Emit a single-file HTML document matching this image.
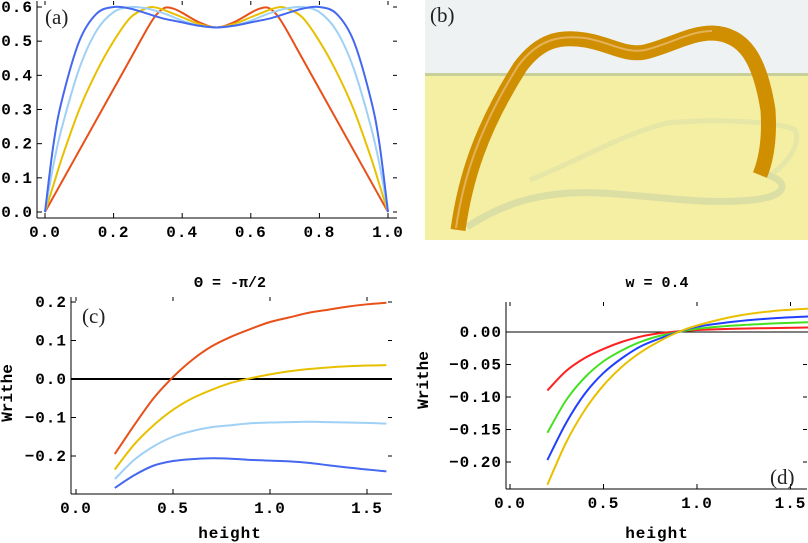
<!DOCTYPE html>
<html><head><meta charset="utf-8">
<style>
body{margin:0;background:#fff;width:808px;height:543px;overflow:hidden}
svg{display:block}
text{font-family:"Liberation Mono",monospace;font-weight:bold;fill:#000}
.lab{font-family:"Liberation Serif",serif;font-weight:normal;font-size:21px;fill:#222}
</style></head><body>
<svg id="fig" width="808" height="543" viewBox="0 0 808 543">
  <g id="pa"></g>
  <g id="pb">
    <rect x="425" y="0" width="383" height="75" fill="#eef2f3"/>
    <rect x="425" y="74" width="383" height="166" fill="#f4efa3"/>
    <rect x="425" y="73" width="383" height="3" fill="#c8cf98"/>
    <path d="M467,227 C500,205 540,190 600,193 C660,196 700,205 753,200 C790,196 790,180 762,173" fill="none" stroke="#dcdfa4" stroke-width="7"/>
    <path d="M530,180 C580,160 620,135 667,123 C720,118 780,122 795,130 C802,145 785,165 773,173" fill="none" stroke="#e6e6a6" stroke-width="5"/>
    <path d="M458,230 C465,180 480,130 520,67 C540,40 560,36 585,40 C610,44 625,56 645,52 C670,46 690,33 712,33 C745,34 760,60 768,110 C770,140 766,160 760,175" fill="none" stroke="#d08f00" stroke-width="15"/>
    <path d="M456,228 C463,180 478,130 518,66 C538,39 560,35 585,38 C610,42 625,54 645,50 C670,44 690,31 712,31" fill="none" stroke="#eec080" stroke-width="2" opacity="0.7"/>
    <text x="430" y="22" class="lab">(b)</text>
  </g>
  <g id="pc"></g>
  <g id="pd"></g>
</svg>
<script>
// ---- Panel (a) data ----
const aX = [0,0.025,0.05,0.1,0.15,0.2,0.25,0.3,0.325,0.35,0.375,0.4,0.45,0.5];
const aRed = [0,0.045,0.09,0.18,0.27,0.36,0.45,0.54,0.578,0.598,0.595,0.583,0.555,0.54];
const aYellow = [0,0.08,0.16,0.3,0.41,0.5,0.57,0.598,0.598,0.59,0.58,0.57,0.55,0.54];
const aLightBlue = [0,0.14,0.25,0.42,0.53,0.585,0.6,0.595,0.588,0.58,0.57,0.56,0.545,0.54];
const aBlue = [0,0.2,0.33,0.5,0.58,0.6,0.595,0.58,0.572,0.565,0.56,0.555,0.545,0.54];
const aXTicks = ["0.0","0.2","0.4","0.6","0.8","1.0"];
const aYTicks = ["0.0","0.1","0.2","0.3","0.4","0.5","0.6"];
// ---- Panel (c) data ----
const cX = [0.2,0.3,0.4,0.5,0.6,0.7,0.8,0.9,1.0,1.1,1.2,1.3,1.4,1.5,1.6];
const cRed = [-0.195,-0.12,-0.05,0.005,0.05,0.085,0.11,0.13,0.148,0.16,0.172,0.18,0.188,0.194,0.198];
const cYellow = [-0.235,-0.17,-0.12,-0.08,-0.05,-0.028,-0.01,0.002,0.012,0.02,0.026,0.03,0.033,0.035,0.036];
const cLightBlue = [-0.26,-0.21,-0.175,-0.15,-0.135,-0.125,-0.12,-0.115,-0.113,-0.112,-0.111,-0.112,-0.113,-0.114,-0.116];
const cBlue = [-0.283,-0.25,-0.225,-0.213,-0.208,-0.206,-0.207,-0.21,-0.212,-0.214,-0.218,-0.224,-0.23,-0.235,-0.24];
const cXTicks = ["0.0","0.5","1.0","1.5"];
const cYTicks = ["-0.2","-0.1","0.0","0.1","0.2"];
// ---- Panel (d) data ----
const dX = [0.2,0.3,0.4,0.5,0.6,0.7,0.8,0.9,1.0,1.2,1.4,1.6];
const dRed = [-0.09,-0.06,-0.04,-0.026,-0.015,-0.007,-0.002,0.001,0.003,0.005,0.006,0.007];
const dGreen = [-0.155,-0.105,-0.07,-0.045,-0.028,-0.015,-0.006,0,0.005,0.01,0.013,0.015];
const dBlue = [-0.197,-0.14,-0.095,-0.063,-0.04,-0.022,-0.01,0,0.008,0.016,0.021,0.024];
const dYellow = [-0.235,-0.17,-0.12,-0.082,-0.053,-0.031,-0.014,0,0.01,0.024,0.032,0.036];
const dXTicks = ["0.0","0.5","1.0","1.5"];
const dYTicks = ["-0.20","-0.15","-0.10","-0.05","0.00"];

const NS="http://www.w3.org/2000/svg";
function mk(parent,tag,attrs){const e=document.createElementNS(NS,tag);for(const k in attrs)e.setAttribute(k,attrs[k]);parent.appendChild(e);return e;}
function smooth(pts){let d="M"+pts[0][0]+","+pts[0][1];for(let i=0;i<pts.length-1;i++){const p0=pts[Math.max(0,i-1)],p1=pts[i],p2=pts[i+1],p3=pts[Math.min(pts.length-1,i+2)];d+=" C"+(p1[0]+(p2[0]-p0[0])/6)+","+(p1[1]+(p2[1]-p0[1])/6)+" "+(p2[0]-(p3[0]-p1[0])/6)+","+(p2[1]-(p3[1]-p1[1])/6)+" "+p2[0]+","+p2[1];}return d;}
function axes(g,o){
  const sx=v=>o.x0+(v-o.xmin)/(o.xmax-o.xmin)*(o.x1-o.x0);
  const sy=v=>o.y0-(v-o.ymin)/(o.ymax-o.ymin)*(o.y0-o.y1);
  let e=mk(g,"line",{x1:o.fl,y1:o.ft,x2:o.fl,y2:o.fb,stroke:"#000","stroke-width":1});
  
  e=mk(g,"line",{x1:o.fl,y1:o.fb,x2:o.fr,y2:o.fb,stroke:"#000","stroke-width":1});
  
  o.xt.forEach(t=>{const x=sx(parseFloat(t));
    e=mk(g,"line",{x1:x,y1:o.fb,x2:x,y2:o.fb-5,stroke:"#000"});
    e=mk(g,"line",{x1:x,y1:o.ft,x2:x,y2:o.ft+4,stroke:"#000"});
    e=mk(g,"text",{x:x,y:o.fb+19,"text-anchor":"middle","font-size":16,"letter-spacing":1});e.textContent=t;
    });
  o.yt.forEach(t=>{const y=sy(parseFloat(t));
    e=mk(g,"line",{x1:o.fl,y1:y,x2:o.fl+5,y2:y,stroke:"#000"});
    e=mk(g,"line",{x1:o.fr,y1:y,x2:o.fr-4,y2:y,stroke:"#000"});
    e=mk(g,"text",{x:o.fl-4,y:y+5,"text-anchor":"end","font-size":16,"letter-spacing":1});e.textContent=t.replace("-","\u2212");
    });
  return {sx,sy};
}
function series(g,s,xs,ys,color,name,w){
  const e=mk(g,"path",{d:smooth(xs.map((x,i)=>[s.sx(x),s.sy(ys[i])])),fill:"none",stroke:color,"stroke-width":w||2});
  
}
// Panel a
(function(){const g=document.getElementById("pa");
  const s=axes(g,{x0:45,x1:388,xmin:0,xmax:1,y0:212,y1:7,ymin:0,ymax:0.6,fl:37,fr:397,ft:1,fb:218,xt:aXTicks,yt:aYTicks});
  const full=a=>a.concat(a.slice(0,-1).reverse());
  const fx=aX.concat(aX.slice(0,-1).reverse().map(v=>1-v));
  series(g,s,fx,full(aRed),"#e8501a","series-red");
  series(g,s,fx,full(aYellow),"#e8c000","series-yellow");
  series(g,s,fx,full(aLightBlue),"#9fd0f5","series-light-blue");
  series(g,s,fx,full(aBlue),"#4468f0","series-blue");
  const t=mk(g,"text",{x:45,y:24,class:"lab"});t.textContent="(a)";
  
})();
// Panel c
(function(){const g=document.getElementById("pc");
  const s=axes(g,{x0:76,x1:270,xmin:0,xmax:1,y0:379,y1:302,ymin:0,ymax:0.2,fl:71,fr:392,ft:297,fb:494,xt:cXTicks,yt:cYTicks});
  let e=mk(g,"line",{x1:71,x2:392,y1:s.sy(0),y2:s.sy(0),stroke:"#000","stroke-width":2});
  
  series(g,s,cX,cRed,"#e8501a","series-red");
  series(g,s,cX,cYellow,"#e8c000","series-yellow");
  series(g,s,cX,cLightBlue,"#9fd0f5","series-light-blue");
  series(g,s,cX,cBlue,"#4468f0","series-blue");
  e=mk(g,"text",{x:82,y:323,class:"lab"});e.textContent="(c)";
  e=mk(g,"text",{x:230,y:287,"text-anchor":"middle","font-size":15});e.textContent="\u0398 = -\u03c0/2";
  e=mk(g,"text",{x:12,y:393,"text-anchor":"middle","font-size":16,transform:"rotate(-90 12 393)"});e.textContent="Writhe";
  e=mk(g,"text",{x:230,y:538,"text-anchor":"middle","font-size":16,"letter-spacing":1});e.textContent="height";
})();
// Panel d
(function(){const g=document.getElementById("pd");
  const s=axes(g,{x0:510,x1:697,xmin:0,xmax:1,y0:332,y1:462,ymin:0,ymax:-0.2,fl:506,fr:807,ft:302,fb:489,xt:dXTicks,yt:dYTicks});
  let e=mk(g,"line",{x1:506,x2:808,y1:s.sy(0),y2:s.sy(0),stroke:"#000","stroke-width":1});
  
  series(g,s,dX,dRed,"#ff2020","series-red");
  series(g,s,dX,dGreen,"#44e020","series-green");
  series(g,s,dX,dBlue,"#2040ff","series-blue");
  series(g,s,dX,dYellow,"#e8c000","series-yellow");
  e=mk(g,"text",{x:770,y:484,class:"lab"});e.textContent="(d)";
  e=mk(g,"text",{x:657,y:287,"text-anchor":"middle","font-size":15});e.textContent="w = 0.4";
  e=mk(g,"text",{x:428,y:380,"text-anchor":"middle","font-size":16,transform:"rotate(-90 428 380)"});e.textContent="Writhe";
  e=mk(g,"text",{x:657,y:538,"text-anchor":"middle","font-size":16,"letter-spacing":1});e.textContent="height";
})();
</script>
</body></html>
